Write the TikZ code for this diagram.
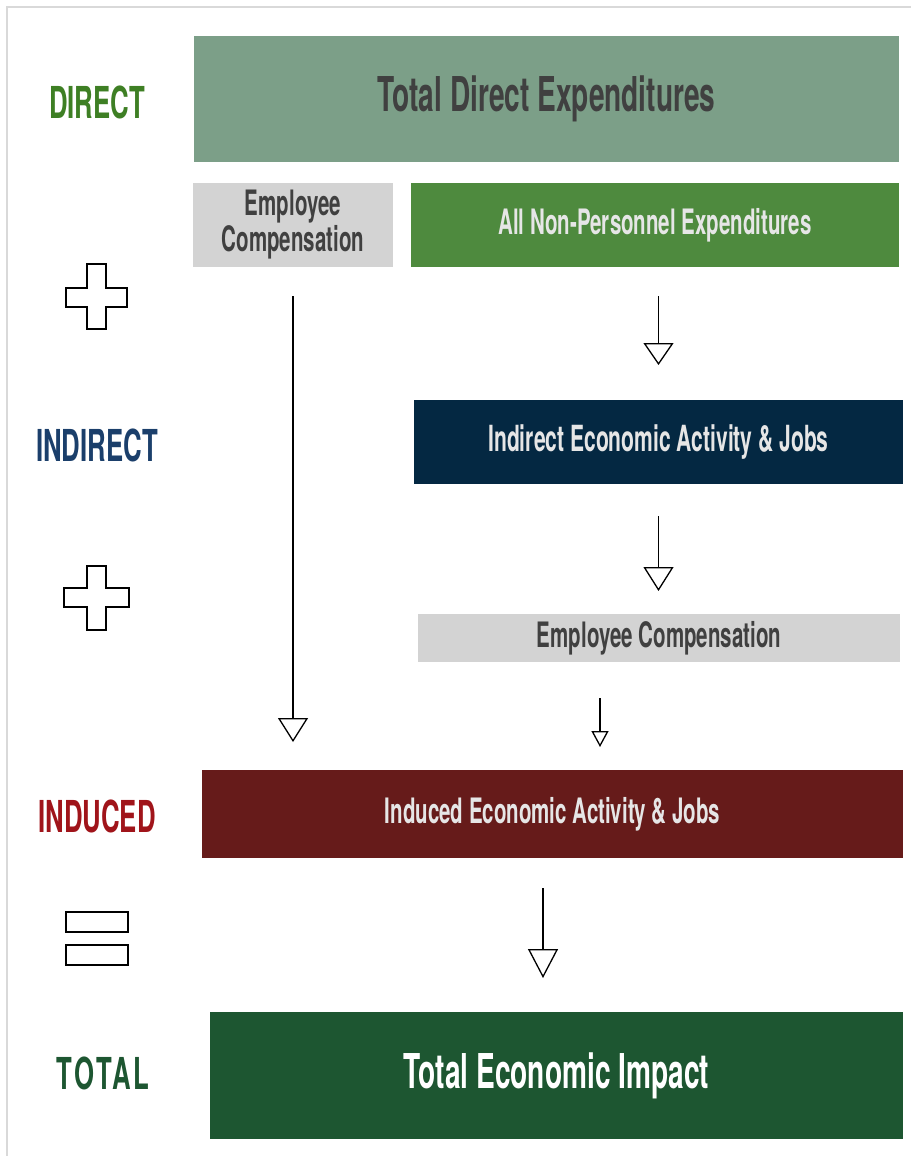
\documentclass[tikz,border=0pt]{standalone}
\usepackage{fontspec}
\usetikzlibrary{arrows.meta,calc}
\newfontfamily\cf{TeX Gyre Heros}[FakeStretch=0.585]
\definecolor{cTDE}{HTML}{7C9F88}
\definecolor{cGrey}{HTML}{D3D3D3}
\definecolor{cNP}{HTML}{4E8A3E}
\definecolor{cInd}{HTML}{042842}
\definecolor{cIndu}{HTML}{661B1A}
\definecolor{cTot}{HTML}{1D5631}
\definecolor{tDark}{HTML}{404040}
\definecolor{tLight}{HTML}{E6E6E6}
\definecolor{lDirect}{HTML}{3E7F24}
\definecolor{lIndirect}{HTML}{1B3F6B}
\definecolor{lInduced}{HTML}{A0141A}
\definecolor{lTotal}{HTML}{1D5631}
\definecolor{frame}{HTML}{D9D9D9}
\tikzset{
  box/.style={rectangle, anchor=north west, inner sep=0pt, outer sep=0pt, draw=none, align=center, font=\cf\bfseries},
  lab/.style={inner sep=0pt, font=\cf\bfseries\fontsize{44}{44}\selectfont},
  arr/.style={line width=1.3pt, -{Triangle[open, width=30pt, length=24pt, line width=1.3pt]}},
  sym/.style={line width=2.5pt, draw=black, fill=white, line join=miter}
}
\begin{document}
\begin{tikzpicture}[x=1pt,y=-1pt]
\useasboundingbox (0,0) rectangle (911,1156);
\draw[frame, line width=1.5pt] (7,1156) -- (7,7) -- (911,7);

% boxes
\node[box, fill=cTDE, minimum width=705, minimum height=126, text=tDark, font=\cf\bfseries\fontsize{48}{48}\selectfont] (tde) at (194,36) {Total Direct Expenditures};
\node[box, fill=cGrey, minimum width=200, minimum height=84, text=tDark, font=\cf\bfseries\fontsize{35}{36}\selectfont] (ec1) at (193,183) {Employee\\Compensation};
\node[box, fill=cNP, minimum width=488, minimum height=84, text=tLight, font=\cf\bfseries\fontsize{35}{35}\selectfont] (np) at (411,183) {All Non-Personnel Expenditures};
\node[box, fill=cInd, minimum width=489, minimum height=84, text=tLight, font=\cf\bfseries\fontsize{36}{36}\selectfont] (ind) at (414,400) {Indirect Economic Activity \& Jobs};
\node[box, fill=cGrey, minimum width=482, minimum height=48, text=tDark, font=\cf\bfseries\fontsize{35}{35}\selectfont] (ec2) at (418,614) {Employee Compensation};
\node[box, fill=cIndu, minimum width=701, minimum height=88, text=tLight, font=\cf\bfseries\fontsize{35}{35}\selectfont] (indu) at (202,770) {Induced Economic Activity \& Jobs};
\node[box, fill=cTot, minimum width=693, minimum height=127, text=white, font=\cf\bfseries\fontsize{48}{48}\selectfont] (tot) at (210,1012) {Total Economic Impact};

% side labels
\node[lab, text=lDirect] (ldirect) at (97,102) {DIRECT};
\node[lab, text=lIndirect] (lindirect) at (97,445) {INDIRECT};
\node[lab, text=lInduced] (linduced) at (97,816) {INDUCED};
\node[lab, text=lTotal, font=\cf\bfseries\fontsize{44}{44}\selectfont\addfontfeature{LetterSpace=6}] (ltotal) at (103,1073) {TOTAL};

% symbols
\draw[sym] (87,264) -- (106,264) -- (106,288) -- (127,288) -- (127,307) -- (106,307) -- (106,329) -- (87,329) -- (87,307) -- (66,307) -- (66,288) -- (87,288) -- cycle;
\draw[sym] (87,566) -- (106,566) -- (106,588) -- (129,588) -- (129,607) -- (106,607) -- (106,630) -- (87,630) -- (87,607) -- (64,607) -- (64,588) -- (87,588) -- cycle;
\draw[sym] (66,912) rectangle (128,932);
\draw[sym] (66,945) rectangle (128,965);

% arrows
\draw[arr, shorten <=29pt, shorten >=28pt] (ec1.south) -- (ec1.south |- indu.north);
\draw[arr, -{Triangle[open, width=30pt, length=22pt, line width=1.3pt]}, shorten <=29pt, shorten >=35pt] (np.south -| ind.north) -- (ind.north);
\draw[arr, shorten <=32pt, shorten >=23pt] (ind.south) -- (ind.south |- ec2.north);
\draw[arr, -{Triangle[open, width=17pt, length=16pt, line width=1.3pt]}, shorten <=36pt, shorten >=23pt] ($(ec2.south)+(-59,0)$) -- ($(ec2.south |- indu.north)+(-59,0)$);
\draw[arr, -{Triangle[open, width=30pt, length=29pt, line width=1.3pt]}, shorten <=30pt, shorten >=34pt] ($(indu.south)+(-9.5,0)$) -- ($(indu.south |- tot.north)+(-9.5,0)$);
\end{tikzpicture}
\end{document}
